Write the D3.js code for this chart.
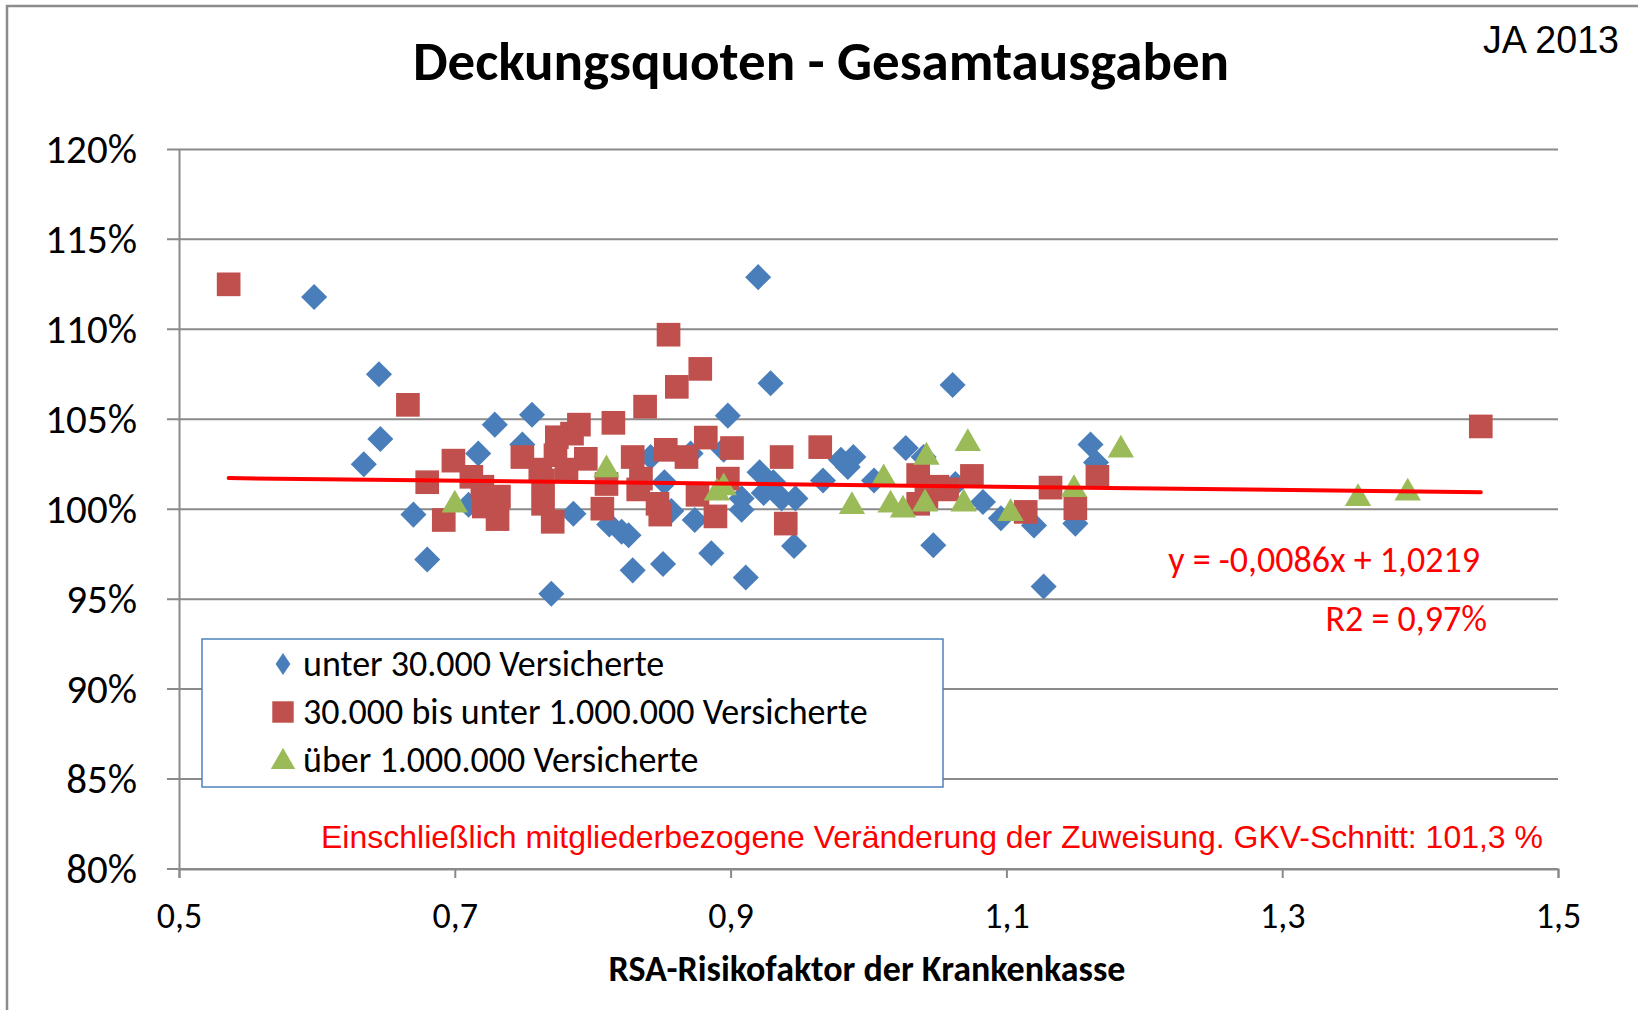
<!DOCTYPE html>
<html>
<head>
<meta charset="utf-8">
<script src="https://cdn.jsdelivr.net/npm/d3@7"></script>
<style>
  body { margin: 0; background: #fff; }
  text { font-family: Carlito, Lato, "Noto Sans", sans-serif; }
</style>
</head>
<body>
<div id="chart"></div>
<script>
// series names (legend)
var seriesNames = ["unter 30.000 Versicherte", "30.000 bis unter 1.000.000 Versicherte", "über 1.000.000 Versicherte"];

// x = RSA-Risikofaktor, y = Deckungsquote
var unter30k = [
  [0.598, 1.118], [0.645, 1.075], [0.646, 1.039], [0.634, 1.025], [0.670, 0.997],
  [0.680, 0.972], [0.717, 1.031], [0.729, 1.047], [0.756, 1.0525], [0.749, 1.036],
  [0.710, 1.0025], [0.770, 0.953], [0.786, 0.9975], [0.812, 0.9915], [0.821, 0.9875],
  [0.826, 0.9855], [0.829, 0.966], [0.851, 0.9695], [0.842, 1.029], [0.852, 1.015],
  [0.857, 0.999], [0.874, 0.994], [0.886, 0.9755], [0.898, 1.052], [0.921, 1.0205],
  [0.924, 1.009], [0.908, 1.006], [0.908, 0.9997], [0.931, 1.015], [0.937, 1.006],
  [0.947, 1.006], [0.946, 0.9795], [0.911, 0.962], [0.920, 1.129], [0.929, 1.070],
  [0.895, 1.033], [0.871, 1.031], [0.967, 1.016], [0.980, 1.0275], [0.989, 1.029],
  [0.985, 1.0235], [1.004, 1.016], [1.027, 1.034], [1.061, 1.069], [1.047, 0.980],
  [1.083, 1.004], [1.096, 0.995], [1.120, 0.991], [1.127, 0.957], [1.040, 1.029],
  [1.063, 1.014], [1.161, 1.036], [1.165, 1.026], [1.150, 0.992]
];
var bis1mio = [
  [0.536, 1.125], [0.666, 1.058], [0.680, 1.015], [0.692, 0.994], [0.699, 1.027],
  [0.712, 1.018], [0.720, 1.0125], [0.732, 1.007], [0.721, 1.0015], [0.731, 0.9945],
  [0.749, 1.029], [0.762, 1.022], [0.764, 1.003], [0.771, 0.993], [0.774, 1.040],
  [0.773, 1.030], [0.785, 1.042], [0.790, 1.047], [0.795, 1.028], [0.781, 1.022],
  [0.807, 1.0003], [0.815, 1.048], [0.810, 1.014], [0.838, 1.057], [0.855, 1.097],
  [0.878, 1.078], [0.861, 1.068], [0.882, 1.0398], [0.853, 1.033], [0.868, 1.029],
  [0.829, 1.029], [0.835, 1.017], [0.833, 1.011], [0.847, 1.003], [0.849, 0.997],
  [0.876, 1.008], [0.889, 0.996], [0.898, 1.017], [0.901, 1.034], [0.937, 1.029],
  [0.940, 0.992], [0.965, 1.0345], [1.036, 1.019], [1.042, 1.007], [1.036, 1.003],
  [1.050, 1.0125], [1.057, 1.011], [1.075, 1.0185], [1.114, 0.9985], [1.132, 1.012],
  [1.150, 1.0005], [1.166, 1.018], [1.444, 1.046], [0.764, 1.016]
];
var ueber1mio = [
  [0.700, 1.0024], [0.810, 1.022], [0.890, 1.009], [0.895, 1.012], [0.988, 1.0015],
  [1.011, 1.017], [1.016, 1.0024], [1.025, 0.9996], [1.042, 1.029], [1.041, 1.003],
  [1.072, 1.0366], [1.069, 1.003], [1.103, 0.9977], [1.149, 1.011], [1.183, 1.033],
  [1.355, 1.006], [1.391, 1.009]
];

// trend line y = m*x + b
var slope = -0.0086, intercept = 1.0219;
var trendRange = [0.536, 1.444];

var xTicks = [0.5, 0.7, 0.9, 1.1, 1.3, 1.5];
var yTicks = [0.80, 0.85, 0.90, 0.95, 1.00, 1.05, 1.10, 1.15, 1.20];

var width = 1638, height = 1010;

var svg = d3.select("#chart").append("svg")
    .attr("width", width)
    .attr("height", height);

svg.append("rect").attr("width", width).attr("height", height).attr("fill", "#fff");

// frame (top and left border)
svg.append("path")
    .attr("d", "M7," + height + " V6 H" + width)
    .attr("fill", "none")
    .attr("stroke", "#8c8c8c")
    .attr("stroke-width", 2.5);

var x = d3.scaleLinear().domain([0.5, 1.5]).range([179, 1558]);
var y = d3.scaleLinear().domain([0.8, 1.2]).range([869, 149.4]);

var de = d3.formatLocale({ decimal: ",", thousands: ".", grouping: [3], currency: ["", " €"] });

// gridlines
svg.append("g")
    .selectAll("line")
    .data(yTicks)
    .enter()
    .append("line")
    .attr("x1", 167)
    .attr("x2", x(1.5))
    .attr("y1", function (d) { return y(d); })
    .attr("y2", function (d) { return y(d); })
    .attr("stroke", "#8a8a8a")
    .attr("stroke-width", 2);

// y axis
var yAxis = svg.append("g")
    .attr("transform", "translate(" + x(0.5) + ",0)")
    .call(d3.axisLeft(y).tickValues(yTicks).tickSize(0).tickPadding(42).tickFormat(d3.format(".0%")));
yAxis.select(".domain").attr("stroke", "#8a8a8a").attr("stroke-width", 2);
yAxis.selectAll("text").attr("font-size", 41).attr("fill", "#000")
    .style("font-family", "Carlito, Lato, sans-serif");

// x axis
var xAxis = svg.append("g")
    .attr("transform", "translate(0," + y(0.8) + ")")
    .call(d3.axisBottom(x).tickValues(xTicks).tickSize(9).tickPadding(24).tickFormat(de.format(".1f")));
xAxis.select(".domain").attr("stroke", "#8a8a8a").attr("stroke-width", 2);
xAxis.selectAll("line").attr("stroke", "#8a8a8a").attr("stroke-width", 2);
xAxis.selectAll("text").attr("font-size", 36).attr("fill", "#000")
    .style("font-family", "Carlito, Lato, sans-serif");

// title
svg.append("text")
    .attr("x", 821)
    .attr("y", 80)
    .attr("text-anchor", "middle")
    .attr("font-size", 55)
    .attr("font-weight", "bold")
    .text("Deckungsquoten - Gesamtausgaben");

svg.append("text")
    .attr("x", 1619)
    .attr("y", 53)
    .attr("text-anchor", "end")
    .attr("font-size", 38)
    .attr("textLength", 136)
    .attr("lengthAdjust", "spacingAndGlyphs")
    .style("font-family", "'Liberation Sans', Arial, sans-serif")
    .text("JA 2013");

// x axis title
svg.append("text")
    .attr("x", 867)
    .attr("y", 981)
    .attr("text-anchor", "middle")
    .attr("font-size", 36)
    .attr("font-weight", "bold")
    .text("RSA-Risikofaktor der Krankenkasse");

// markers
var diamond = d3.symbol().type(d3.symbolSquare).size(340);
var square = d3.symbol().type(d3.symbolSquare).size(560);
var triangle = d3.symbol().type(d3.symbolTriangle).size(300);

svg.append("g")
    .selectAll("path")
    .data(unter30k)
    .enter()
    .append("path")
    .attr("d", diamond)
    .attr("transform", function (d) { return "translate(" + x(d[0]) + "," + y(d[1]) + ") rotate(45)"; })
    .attr("fill", "#4a7ebb");

svg.append("g")
    .selectAll("path")
    .data(bis1mio)
    .enter()
    .append("path")
    .attr("d", square)
    .attr("transform", function (d) { return "translate(" + x(d[0]) + "," + y(d[1]) + ")"; })
    .attr("fill", "#c0504d");

svg.append("g")
    .selectAll("path")
    .data(ueber1mio)
    .enter()
    .append("path")
    .attr("d", triangle)
    .attr("transform", function (d) { return "translate(" + x(d[0]) + "," + y(d[1]) + ")"; })
    .attr("fill", "#9bbb59");

// trend line
svg.append("line")
    .attr("x1", x(trendRange[0]))
    .attr("y1", y(slope * trendRange[0] + intercept))
    .attr("x2", x(trendRange[1]))
    .attr("y2", y(slope * trendRange[1] + intercept))
    .attr("stroke", "#ff0000")
    .attr("stroke-width", 4)
    .attr("stroke-linecap", "round");

svg.append("text")
    .attr("x", 1480)
    .attr("y", 572)
    .attr("text-anchor", "end")
    .attr("font-size", 36)
    .attr("fill", "#ff0000")
    .text("y = -0,0086x + 1,0219");

svg.append("text")
    .attr("x", 1487)
    .attr("y", 631)
    .attr("text-anchor", "end")
    .attr("font-size", 36)
    .attr("fill", "#ff0000")
    .text("R2 = 0,97%");

svg.append("text")
    .attr("x", 1543)
    .attr("y", 848)
    .attr("text-anchor", "end")
    .attr("font-size", 32)
    .attr("fill", "#ff0000")
    .style("font-family", "'Liberation Sans', Arial, sans-serif")
    .text("Einschließlich mitgliederbezogene Veränderung der Zuweisung. GKV-Schnitt: 101,3 %");

// legend
var legend = svg.append("g");
legend.append("rect")
    .attr("x", 202)
    .attr("y", 639)
    .attr("width", 741)
    .attr("height", 148)
    .attr("fill", "#fff")
    .attr("stroke", "#4f81bd")
    .attr("stroke-width", 1.5);

var legendSymbols = [
    d3.symbol().type(d3.symbolSquare).size(170),
    d3.symbol().type(d3.symbolSquare).size(460),
    d3.symbol().type(d3.symbolTriangle).size(260)
];
var legendColors = ["#4a7ebb", "#c0504d", "#9bbb59"];

var rows = legend.selectAll("g.row")
    .data(seriesNames)
    .enter()
    .append("g")
    .attr("class", "row")
    .attr("transform", function (d, i) { return "translate(283," + (664 + i * 48) + ")"; });

rows.append("path")
    .attr("d", function (d, i) { return legendSymbols[i](); })
    .attr("transform", function (d, i) { return i === 0 ? "scale(0.8,1.2) rotate(45)" : (i === 2 ? "translate(0,2)" : ""); })
    .attr("fill", function (d, i) { return legendColors[i]; });

rows.append("text")
    .attr("x", 20)
    .attr("y", 12)
    .attr("font-size", 36)
    .text(function (d) { return d; });
</script>
</body>
</html>
